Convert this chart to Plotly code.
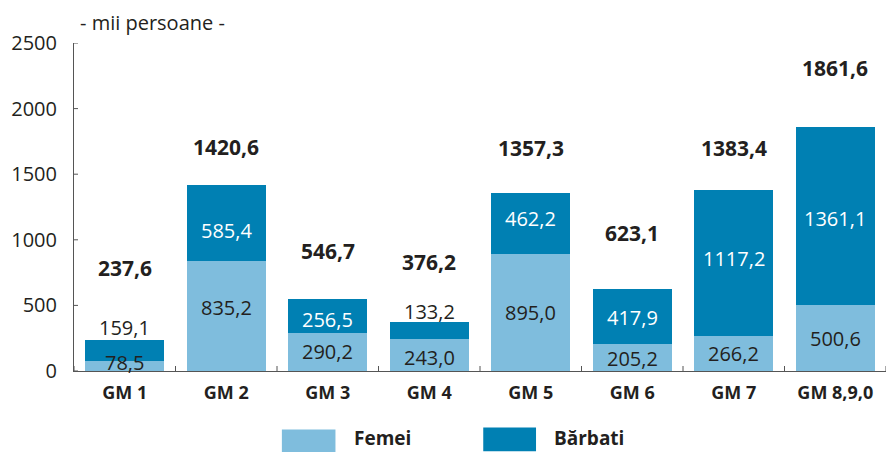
import plotly.graph_objects as go

# ---- data ----
categories = ["GM 1", "GM 2", "GM 3", "GM 4", "GM 5", "GM 6", "GM 7", "GM 8,9,0"]
femei = [78.5, 835.2, 290.2, 243.0, 895.0, 205.2, 266.2, 500.6]
barbati = [159.1, 585.4, 256.5, 133.2, 462.2, 417.9, 1117.2, 1361.1]
totals = [237.6, 1420.6, 546.7, 376.2, 1357.3, 623.1, 1383.4, 1861.6]
y_ticks = [0, 500, 1000, 1500, 2000, 2500]

# ---- label placement (layout only) ----
total_label_y = [784, 1708, 914, 830, 1701, 1051, 1701, 2311]
femei_shift = [3, 9, 0, -2, 0, -1, 0, 0]
barbati_shift = [23, -7, -3, 19, 5, -1, 4, -2]
barbati_outside = [True, False, False, True, False, False, False, False]

C_LIGHT = "#7fbddd"
C_DARK = "#0080b3"
C_TEXT = "#231f20"
FONT = "Open Sans"

def fmt(v):
    return f"{v:.1f}".replace(".", ",")

x = list(range(len(categories)))

fig = go.Figure()
fig.add_trace(go.Bar(x=x, y=femei, name="Femei", marker=dict(color=C_LIGHT, line=dict(width=0)),
                     hoverinfo="skip"))
fig.add_trace(go.Bar(x=x, y=barbati, name="Bărbati", marker=dict(color=C_DARK, line=dict(width=0)),
                     hoverinfo="skip"))

ann = []
for i in x:
    ann.append(dict(x=i, y=femei[i] / 2, xref="x", yref="y", text=fmt(femei[i]), showarrow=False,
                    yshift=femei_shift[i], font=dict(family=FONT, size=20, color=C_TEXT)))
    ann.append(dict(x=i, y=femei[i] + barbati[i] / 2, xref="x", yref="y", text=fmt(barbati[i]),
                    showarrow=False, yshift=barbati_shift[i],
                    font=dict(family=FONT, size=20, color=C_TEXT if barbati_outside[i] else "white")))
    ann.append(dict(x=i, y=total_label_y[i], xref="x", yref="y", text="<b>" + fmt(totals[i]) + "</b>",
                    showarrow=False, font=dict(family=FONT, size=21, color=C_TEXT)))

# title
ann.append(dict(x=0.097, y=1.062, xref="paper", yref="paper", text="- mii persoane -", showarrow=False,
                xanchor="center", yanchor="middle", font=dict(family=FONT, size=20, color=C_TEXT)))
# legend texts
ann.append(dict(x=0.342, y=-0.2056, xref="paper", yref="paper", text="<b>Femei</b>", showarrow=False,
                xanchor="left", yanchor="middle", font=dict(family=FONT, size=19, color=C_TEXT)))
ann.append(dict(x=0.589, y=-0.2056, xref="paper", yref="paper", text="<b>Bărbati</b>", showarrow=False,
                xanchor="left", yanchor="middle", font=dict(family=FONT, size=19, color=C_TEXT)))

shapes = []
# legend swatches
shapes.append(dict(type="rect", xref="paper", yref="paper", x0=0.256, x1=0.322, y0=-0.248, y1=-0.178,
                   fillcolor=C_LIGHT, line=dict(width=0)))
shapes.append(dict(type="rect", xref="paper", yref="paper", x0=0.504, x1=0.569, y0=-0.245, y1=-0.172,
                   fillcolor=C_DARK, line=dict(width=0)))
# crossing tick marks on the y axis
for t in y_ticks:
    shapes.append(dict(type="line", xref="x", yref="y", xsizemode="pixel", xanchor=-0.5,
                       x0=-4, x1=4, y0=t, y1=t, line=dict(color="#555", width=1)))
# crossing tick marks on the x axis at category boundaries
for i in range(len(categories) + 1):
    shapes.append(dict(type="line", xref="x", yref="y", ysizemode="pixel", yanchor=0,
                       x0=i - 0.5, x1=i - 0.5, y0=-5, y1=5, line=dict(color="#555", width=1)))

fig.update_layout(
    width=886, height=452,
    margin=dict(l=74, r=0, t=43, b=81),
    barmode="stack", bargap=0.22,
    plot_bgcolor="white", paper_bgcolor="white",
    showlegend=False,
    annotations=ann, shapes=shapes,
    xaxis=dict(range=[-0.5, len(categories) - 0.5], tickvals=x, ticktext=["<b>%s</b>" % c for c in categories],
               ticks="", showline=True, linecolor="#555", linewidth=1, showgrid=False, zeroline=False,
               tickfont=dict(family=FONT, size=18, color=C_TEXT), ticklabelstandoff=5, fixedrange=True),
    yaxis=dict(range=[0, 2500], tickvals=y_ticks, ticks="", showline=True, linecolor="#555", linewidth=1,
               showgrid=False, zeroline=False, tickfont=dict(family=FONT, size=20, color=C_TEXT),
               ticklabelstandoff=12, fixedrange=True),
)

fig.write_html("out.html", config={"displayModeBar": False},
               post_script="document.body.style.margin='0px';document.body.style.overflow='hidden';")
